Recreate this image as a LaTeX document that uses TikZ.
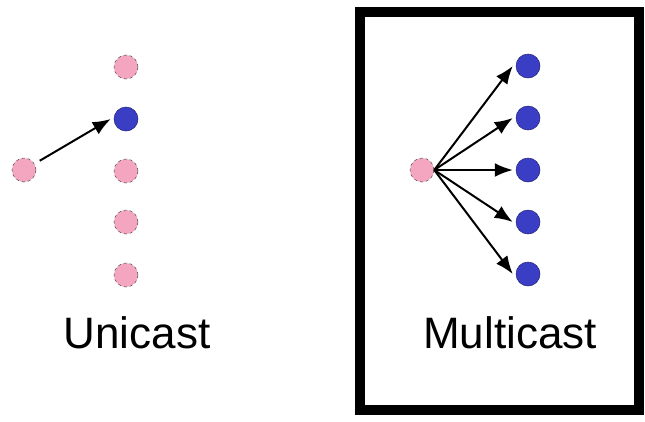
\documentclass[tikz,border=0pt]{standalone}
\usepackage{fontspec}
\setmainfont{Liberation Sans}
\usetikzlibrary{arrows.meta}
\definecolor{pinkn}{RGB}{244,166,192}
\definecolor{bluen}{RGB}{58,62,196}
\begin{document}
\begin{tikzpicture}[x=1pt,y=-1pt,
  pnode/.style={circle,fill=pinkn,draw=black!70,dashed,line width=0.5pt,minimum size=24pt,inner sep=0pt},
  bnode/.style={circle,fill=bluen,draw=bluen!60!black,line width=0.5pt,minimum size=24pt,inner sep=0pt},
  arr/.style={-{Latex[length=18pt,width=14pt]},line width=2pt,black},
  lbl/.style={font=\fontsize{44pt}{48pt}\selectfont,inner sep=0pt}]
\useasboundingbox (0,0) rectangle (645,421);
\fill[white] (0,0) rectangle (645,421);
% Unicast
\node[pnode] (us) at (24,170) {};
\node[pnode] (u1) at (126,67) {};
\node[bnode] (u2) at (126,119) {};
\node[pnode] (u3) at (126,171) {};
\node[pnode] (u4) at (126,222) {};
\node[pnode] (u5) at (126,275) {};
\draw[arr,shorten <=6pt] (us) -- ([xshift=-3pt]u2.west);
\node[lbl] (ul) at (137,333) {Unicast};
% Multicast
\draw[line width=10pt] (360,12) rectangle (639,410);
\node[pnode] (ms) at (422,170) {};
\node[bnode] (m1) at (528,66) {};
\node[bnode] (m2) at (528,118) {};
\node[bnode] (m3) at (528,170) {};
\node[bnode] (m4) at (528,222) {};
\node[bnode] (m5) at (528,274) {};
\foreach \t in {m1,m2,m3,m4,m5}
  \draw[arr] (ms.east) -- ([xshift=-3pt]\t.west);
\node[lbl] (ml) at (510,333) {Multicast};
\end{tikzpicture}
\end{document}
